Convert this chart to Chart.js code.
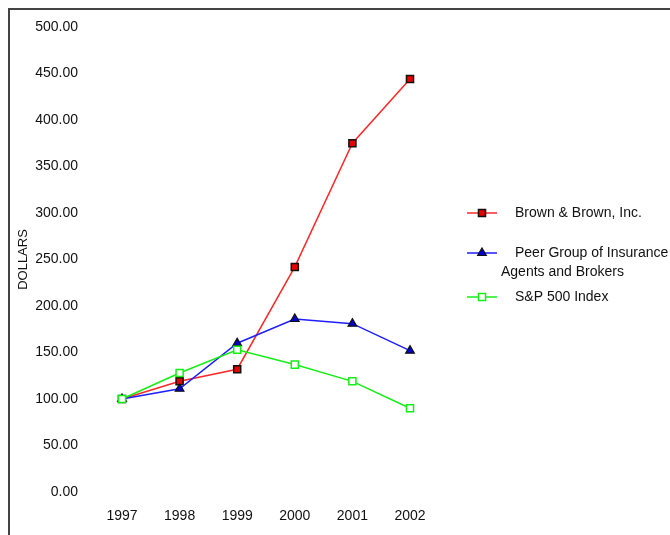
<!DOCTYPE html>
<html>
<head>
<meta charset="utf-8">
<script src="https://cdn.jsdelivr.net/npm/chart.js@4"></script>
<style>
  body { margin: 0; background: #fff; }
  #wrap { position: relative; width: 670px; height: 535px; }
  #frame { position: absolute; left: 8px; top: 8px; right: 0; bottom: 0;
           border-left: 2px solid #444; border-top: 2px solid #444; }
  canvas { position: absolute; left: 0; top: 0; }
</style>
</head>
<body>
<div id="wrap">
  <canvas id="perf" width="670" height="535"></canvas>
  <div id="frame"></div>
</div>
<script>
const years = ['1997', '1998', '1999', '2000', '2001', '2002'];
const brown = [100, 119, 132, 242, 375, 444];
const peer = [100, 111, 160, 186, 181, 152];
const sp500 = [100, 128, 153, 137, 119, 90];
const seriesNames = [
  ['Brown & Brown, Inc.'],
  ['Peer Group of Insurance', 'Agents and Brokers'],
  ['S&P 500 Index']
];
const yTicks = [0, 50, 100, 150, 200, 250, 300, 350, 400, 450, 500];

const FONT = '"Liberation Sans", Arial, sans-serif';

// legend drawn by hand so the second entry can wrap like the original
const sideLegend = {
  id: 'sideLegend',
  afterDraw(chart) {
    const ctx = chart.ctx;
    const rows = [213, 253, 297];
    ctx.save();
    chart.data.datasets.forEach((ds, i) => {
      const y = rows[i];
      ctx.strokeStyle = ds.borderColor;
      ctx.lineWidth = 1.5;
      ctx.beginPath();
      ctx.moveTo(467, y);
      ctx.lineTo(497, y);
      ctx.stroke();
      ctx.fillStyle = ds.pointBackgroundColor;
      ctx.strokeStyle = ds.pointBorderColor;
      ctx.lineWidth = ds.pointBorderWidth;
      Chart.helpers.drawPoint(ctx, {
        pointStyle: ds.pointStyle, radius: ds.pointRadius,
        rotation: 0, borderWidth: ds.pointBorderWidth
      }, 482, y);
      ctx.fillStyle = '#111';
      ctx.font = '14px ' + FONT;
      ctx.textBaseline = 'middle';
      seriesNames[i].forEach((txt, j) => {
        ctx.fillText(txt, j === 0 ? 515 : 501, y + j * 19);
      });
    });
    ctx.restore();
  }
};

new Chart(document.getElementById('perf').getContext('2d'), {
  type: 'line',
  data: {
    labels: years,
    datasets: [
      {
        label: seriesNames[0].join(' '),
        data: brown,
        borderColor: 'rgb(255,40,40)',
        borderWidth: 1.5,
        pointStyle: 'rect',
        pointRadius: 5,
        pointBackgroundColor: 'rgb(230,0,0)',
        pointBorderColor: '#111',
        pointBorderWidth: 1.5,
        tension: 0,
        order: 2
      },
      {
        label: seriesNames[1].join(' '),
        data: peer,
        borderColor: 'rgb(30,30,255)',
        borderWidth: 1.5,
        pointStyle: 'triangle',
        pointRadius: 5,
        pointBackgroundColor: 'rgb(0,0,200)',
        pointBorderColor: '#111',
        pointBorderWidth: 1.2,
        tension: 0,
        order: 1
      },
      {
        label: seriesNames[2].join(' '),
        data: sp500,
        borderColor: 'rgb(20,240,20)',
        borderWidth: 1.5,
        pointStyle: 'rect',
        pointRadius: 5,
        pointBackgroundColor: '#fff',
        pointBorderColor: 'rgb(20,240,20)',
        pointBorderWidth: 1.5,
        tension: 0,
        order: 0
      }
    ]
  },
  options: {
    responsive: false,
    animation: false,
    layout: { padding: { left: 8, top: 27, right: 260, bottom: 0 } },
    plugins: { legend: { display: false }, tooltip: { enabled: false } },
    scales: {
      x: {
        offset: false,
        grid: { display: false },
        border: { display: false },
        ticks: { color: '#111', font: { family: FONT, size: 14 }, padding: 8, maxRotation: 0 },
        afterFit(scale) { scale.height = 43; }
      },
      y: {
        min: 0,
        max: 500,
        afterBuildTicks(scale) { scale.ticks = yTicks.map(v => ({ value: v })); },
        grid: { display: false },
        border: { display: false },
        ticks: {
          color: '#111',
          font: { family: FONT, size: 14 },
          padding: 36,
          callback: v => v.toFixed(2)
        },
        title: {
          display: true,
          text: 'DOLLARS',
          color: '#111',
          font: { family: FONT, size: 13 },
          padding: { top: 8, bottom: 0 }
        },
        afterFit(scale) {
          // tick padding is only meant to push labels sideways
          scale.width = 114;
          scale.paddingTop = 0;
          scale.paddingBottom = 0;
        }
      }
    }
  },
  plugins: [sideLegend]
});
</script>
</body>
</html>
